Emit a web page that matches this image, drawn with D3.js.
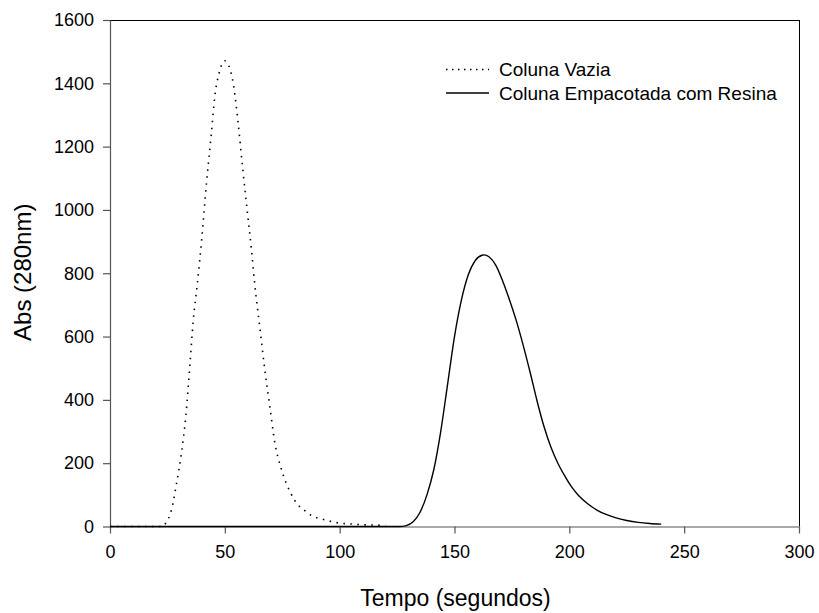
<!DOCTYPE html>
<html>
<head>
<meta charset="utf-8">
<script src="https://cdn.jsdelivr.net/npm/d3@7"></script>
<style>
  body { margin: 0; background: #fff; }
  svg { display: block; }
  text { font-family: "Liberation Sans", Arial, sans-serif; fill: #000; }
</style>
</head>
<body>
<svg id="chart" width="819" height="613"></svg>
<script>
// ---- data ----
const vaziaX = [0, 10, 20, 23, 24.3, 26.8, 29.0, 31.2, 33.0, 34.8, 36.2, 38.0, 39.9, 42.0, 44.2, 45.7, 47.4, 50, 51.7, 53.9, 55.8, 57.7, 59.7, 61.6, 63.0, 65.2, 67.4, 69.6, 71.7, 74.7, 78.3, 81.9, 84.3, 87.7, 93.5, 99.7, 105.8, 111.6, 118, 120];
const vaziaY = [0, 0, 0, 0, 11, 53, 137, 237, 347, 511, 647, 765, 905, 1084, 1247, 1363, 1429, 1471, 1456, 1389, 1274, 1137, 1000, 874, 767, 631, 495, 379, 268, 179, 111, 68, 53, 35, 21, 11, 7.5, 5, 4, 3];

const resinaX = [0, 50, 100, 120, 126, 129, 132, 135, 138, 141, 144, 147, 150, 153, 156, 159, 162, 163, 165, 168, 171, 174, 177, 180, 183, 186, 189, 192, 195, 198, 201, 204, 208, 212, 216, 220, 225, 230, 235, 240];
const resinaY = [0, 0, 0, 0, 0, 3, 15, 45, 100, 180, 300, 450, 600, 715, 795, 840, 857, 858, 852, 825, 775, 715, 648, 570, 485, 395, 315, 250, 200, 160, 125, 98, 72, 52, 38, 28, 19, 13, 9.5, 7.5];

const seriesNames = ["Coluna Vazia", "Coluna Empacotada com Resina"];
const xTicks = [0, 50, 100, 150, 200, 250, 300];
const yTicks = [0, 200, 400, 600, 800, 1000, 1200, 1400, 1600];
const xTitle = "Tempo (segundos)";
const yTitle = "Abs (280nm)";

(function () {
// ---- layout ----
const svg = d3.select("#chart");
const pL = 110, pR = 799, pT = 20, pB = 526.5;

const x = d3.scaleLinear().domain([0, 300]).range([pL, pR]);
const y = d3.scaleLinear().domain([0, 1600]).range([pB, pT]);

// frame top/right
svg.append("line").attr("x1", pL).attr("x2", pR).attr("y1", pT + 0.5).attr("y2", pT + 0.5)
  .attr("stroke", "#000").attr("stroke-width", 1);
svg.append("line").attr("x1", pR + 0.5).attr("x2", pR + 0.5).attr("y1", pT).attr("y2", pB)
  .attr("stroke", "#000").attr("stroke-width", 1);

// axes
const fmt = d3.format("d");
const xAxis = d3.axisBottom(x).tickValues(xTicks).tickFormat(fmt).tickSize(7).tickPadding(12).tickSizeOuter(0);
const yAxis = d3.axisLeft(y).tickValues(yTicks).tickFormat(fmt).tickSize(7).tickPadding(9).tickSizeOuter(0);

const gx = svg.append("g").attr("transform", `translate(0,${pB})`).call(xAxis);
const gy = svg.append("g").attr("transform", `translate(${pL},0)`).call(yAxis);
[gx, gy].forEach(g => {
  g.select(".domain").attr("stroke", "#555").attr("stroke-width", 1.2);
  g.selectAll(".tick line").attr("stroke", "#555").attr("stroke-width", 1.2);
  g.selectAll(".tick text").attr("font-size", 18).attr("font-family", "Liberation Sans, Arial, sans-serif").attr("fill", "#000");
});

// series
const line = d3.line().x(d => x(d[0])).y(d => y(d[1])).curve(d3.curveMonotoneX);
const vazia = vaziaX.map((v, i) => [v, vaziaY[i]]);
const resina = resinaX.map((v, i) => [v, resinaY[i]]);

svg.append("path").datum(resina).attr("d", line)
  .attr("fill", "none").attr("stroke", "#000").attr("stroke-width", 1.4);
svg.append("path").datum(vazia).attr("d", line)
  .attr("fill", "none").attr("stroke", "#000").attr("stroke-width", 1.6)
  .attr("stroke-dasharray", "1.5,5.5");

// titles
svg.append("text").attr("x", (pL + pR) / 2 + 1).attr("y", 606)
  .attr("text-anchor", "middle").attr("font-size", 23).text(xTitle);
svg.append("text").attr("transform", `translate(31,${(pT + pB) / 2 - 1}) rotate(-90)`)
  .attr("text-anchor", "middle").attr("font-size", 24).text(yTitle);

// legend
const legend = svg.append("g");
const legY = [69.5, 93];
legend.append("line").attr("x1", 446).attr("x2", 489).attr("y1", legY[0]).attr("y2", legY[0])
  .attr("stroke", "#000").attr("stroke-width", 1.6).attr("stroke-dasharray", "1.5,4.5");
legend.append("line").attr("x1", 446).attr("x2", 489).attr("y1", legY[1]).attr("y2", legY[1])
  .attr("stroke", "#000").attr("stroke-width", 1.4);
seriesNames.forEach((n, i) => {
  legend.append("text").attr("x", 499).attr("y", legY[i] + 6.5).attr("font-size", 19).text(n);
});
})();
</script>
</body>
</html>
